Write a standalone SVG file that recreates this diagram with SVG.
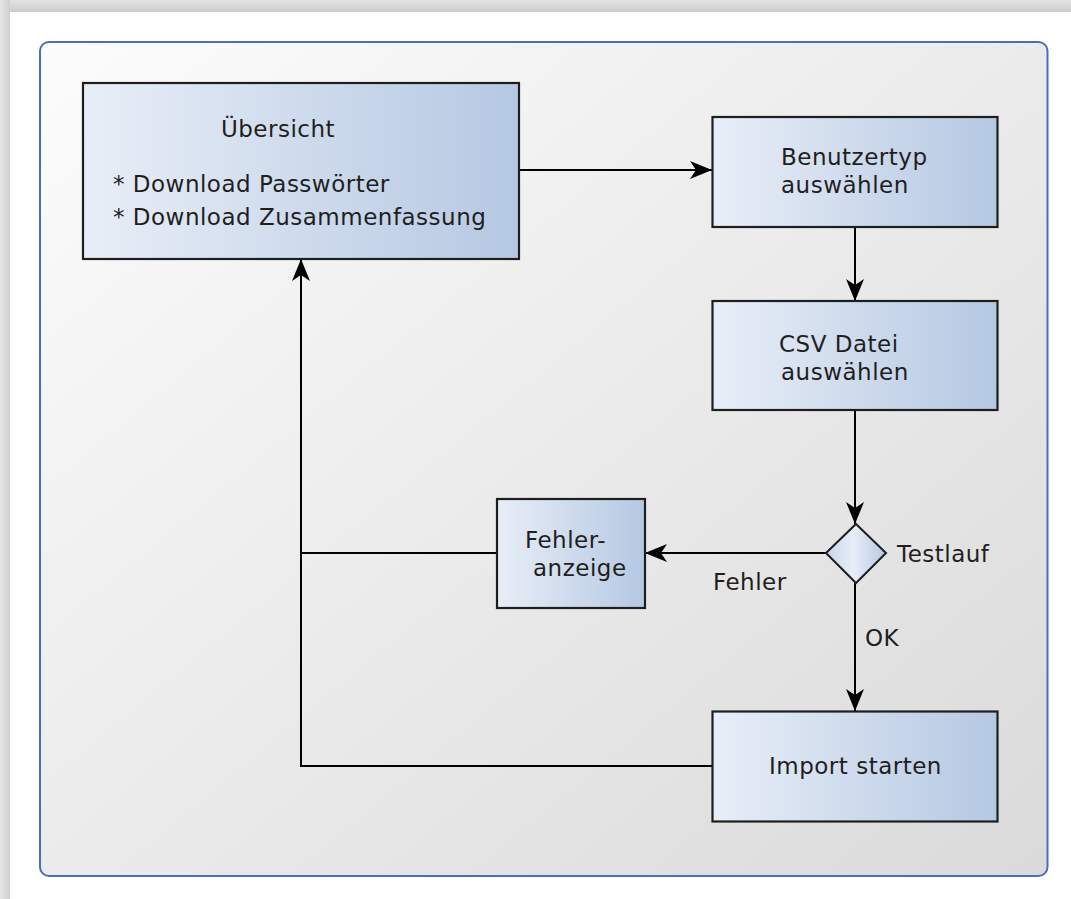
<svg xmlns="http://www.w3.org/2000/svg" width="1071" height="899" viewBox="0 0 1071 899">
<defs>
<linearGradient id="shTop" x1="0" y1="0" x2="0" y2="1"><stop offset="0" stop-color="#e2e2e2"/><stop offset="1" stop-color="#cdcdcd"/></linearGradient>
<linearGradient id="shLeft" x1="0" y1="0" x2="1" y2="0"><stop offset="0" stop-color="#e6e6e6"/><stop offset="1" stop-color="#cfcfcf"/></linearGradient>
<linearGradient id="bg" x1="0" y1="0" x2="1" y2="1"><stop offset="0" stop-color="#fcfcfc"/><stop offset="1" stop-color="#dadada"/></linearGradient>
<linearGradient id="box" x1="0" y1="0" x2="1" y2="0"><stop offset="0" stop-color="#e8eef7"/><stop offset="1" stop-color="#b5c8e2"/></linearGradient>
<linearGradient id="dia" x1="0" y1="0" x2="1" y2="0"><stop offset="0" stop-color="#c6d5ea"/><stop offset="0.45" stop-color="#e8eef7"/><stop offset="1" stop-color="#b5c8e2"/></linearGradient>
<marker id="arr" markerUnits="userSpaceOnUse" viewBox="0 0 22 18" refX="22" refY="9" markerWidth="22" markerHeight="18" orient="auto"><path d="M0,0 L22,9 L0,18 L6,9 z" fill="#000"/></marker>
</defs>
<style>
.node{fill:url(#box);stroke:#1e1e1e;stroke-width:2.2}
.t{font-family:"DejaVu Sans",Verdana,sans-serif;font-size:23px;fill:#1f1f1f;letter-spacing:0.5px}
.c{fill:none;stroke:#000;stroke-width:2}
</style>
<rect x="0" y="0" width="1071" height="899" fill="#ffffff"/>
<rect x="0" y="0" width="1071" height="12" fill="url(#shTop)"/>
<rect x="0" y="0" width="10" height="899" fill="url(#shLeft)"/>
<rect x="40" y="42" width="1007.5" height="834" rx="9" fill="url(#bg)" stroke="#4b6dbd" stroke-width="2"/>
<g id="connectors">
<path class="c" d="M519,170 H712" marker-end="url(#arr)"/>
<path class="c" d="M855,227 V301" marker-end="url(#arr)"/>
<path class="c" d="M855,410 V524" marker-end="url(#arr)"/>
<path class="c" d="M826,553 H645" marker-end="url(#arr)"/>
<path class="c" d="M855,583 V711" marker-end="url(#arr)"/>
<path class="c" d="M497,553 H301"/>
<path class="c" d="M712,766 H301 V259" marker-end="url(#arr)"/>
</g>
<g id="uebersicht">
<rect class="node" x="83" y="83" width="436" height="176"/>
<text class="t" x="278" y="137" text-anchor="middle">Übersicht</text>
<text class="t" x="113" y="192">* Download Passwörter</text>
<text class="t" x="113" y="225">* Download Zusammenfassung</text>
</g>
<g id="benutzertyp">
<rect class="node" x="712.5" y="117" width="285" height="110"/>
<text class="t" x="781" y="165">Benutzertyp</text>
<text class="t" x="781" y="193">auswählen</text>
</g>
<g id="csv">
<rect class="node" x="712.5" y="301" width="285" height="109"/>
<text class="t" x="779" y="352">CSV Datei</text>
<text class="t" x="781" y="380">auswählen</text>
</g>
<g id="testlauf">
<path d="M856,524 L886,553 L856,583 L826,553 z" fill="url(#dia)" stroke="#1e1e1e" stroke-width="2"/>
<text class="t" x="897" y="562">Testlauf</text>
</g>
<g id="fehleranzeige">
<rect class="node" x="497" y="499" width="148" height="109"/>
<text class="t" x="525" y="548">Fehler-</text>
<text class="t" x="533" y="576">anzeige</text>
</g>
<g id="import">
<rect class="node" x="712.5" y="711.5" width="285" height="110"/>
<text class="t" x="769" y="774">Import starten</text>
</g>
<g id="labels">
<text class="t" x="713" y="590">Fehler</text>
<text class="t" x="865" y="646">OK</text>
</g>
</svg>
